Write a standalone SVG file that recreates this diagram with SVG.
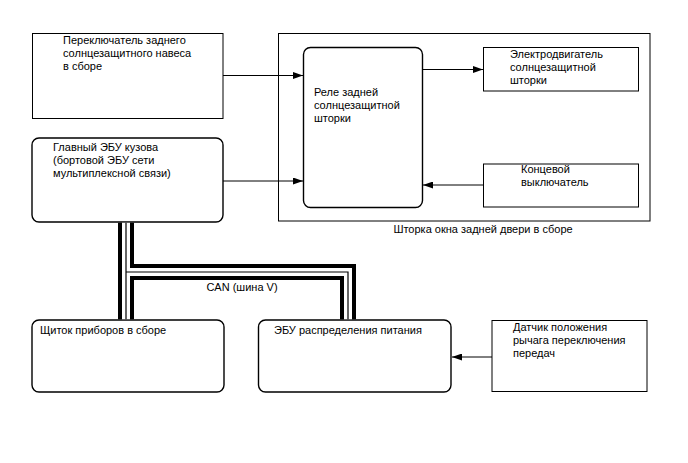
<svg xmlns="http://www.w3.org/2000/svg" width="688" height="463" viewBox="0 0 688 463">
<defs>
<style>
text{font-family:"Liberation Sans",Arial,sans-serif;font-size:11px;fill:#000}
.box{fill:#fff;stroke:#000;stroke-width:1}
.frame{fill:none;stroke:#000;stroke-width:1}
.rbox{fill:#fff;stroke:#000;stroke-width:1.4}
.wire{fill:none;stroke:#000;stroke-width:1}
.busA{fill:none;stroke:#000;stroke-width:16}
.busB{fill:none;stroke:#fff;stroke-width:8}
.busC{fill:none;stroke:#000;stroke-width:1.2}
</style>
<marker id="ah" markerWidth="10" markerHeight="7" refX="10" refY="3.5" orient="auto" markerUnits="userSpaceOnUse">
<path d="M0,0 L10,3.5 L0,7 z" fill="#000"/>
</marker>
</defs>
<rect width="688" height="463" fill="#fff"/>

<g id="shade-assembly">
<rect class="frame" x="278.5" y="33.5" width="371.5" height="187.5"/>
<text x="483" y="233" text-anchor="middle">Шторка окна задней двери в сборе</text>
</g>

<g id="switch">
<rect class="box" x="32.5" y="33.5" width="190.5" height="85"/>
<text x="63" y="44">Переключатель заднего</text>
<text x="63" y="57">солнцезащитного навеса</text>
<text x="63" y="70">в сборе</text>
</g>

<g id="main-ecu">
<rect class="rbox" x="32" y="138" width="191" height="84" rx="7"/>
<text x="53" y="151">Главный ЭБУ кузова</text>
<text x="53" y="164">(бортовой ЭБУ сети</text>
<text x="53" y="177">мультиплексной связи)</text>
</g>

<g id="relay">
<rect class="rbox" x="303.5" y="47.5" width="119" height="160" rx="7"/>
<text x="314" y="96">Реле задней</text>
<text x="314" y="109">солнцезащитной</text>
<text x="314" y="122">шторки</text>
</g>

<g id="motor">
<rect class="box" x="483.5" y="47.5" width="155" height="43.5"/>
<text x="510" y="58">Электродвигатель</text>
<text x="510" y="71">солнцезащитной</text>
<text x="510" y="84">шторки</text>
</g>

<g id="limit-switch">
<rect class="box" x="483.5" y="164" width="155" height="43"/>
<text x="521" y="173">Концевой</text>
<text x="521" y="186">выключатель</text>
</g>

<g id="instrument-panel">
<rect class="rbox" x="32" y="320" width="192" height="72" rx="7"/>
<text x="40" y="334">Щиток приборов в сборе</text>
</g>

<g id="power-ecu">
<rect class="rbox" x="258.5" y="320" width="192.5" height="72" rx="7"/>
<text x="274" y="334">ЭБУ распределения питания</text>
</g>

<g id="shift-sensor">
<rect class="box" x="492" y="320.5" width="155" height="71"/>
<text x="513" y="331">Датчик положения</text>
<text x="513" y="344">рычага переключения</text>
<text x="513" y="357">передач</text>
</g>

<g id="connectors">
<g id="can-bus">
<path class="busA" d="M126,222.7 V319.3 M126,272 H348 V319.3"/>
<path class="busB" d="M126,222.7 V319.3 M126,272 H348 V319.3"/>
<path class="busC" d="M126,222.7 V319.3 M126,272 H348 V319.3"/>
</g>
<line class="wire" x1="223" y1="75.5" x2="303" y2="75.5" marker-end="url(#ah)"/>
<line class="wire" x1="223" y1="181" x2="303" y2="181" marker-end="url(#ah)"/>
<line class="wire" x1="423" y1="69.5" x2="483" y2="69.5" marker-end="url(#ah)"/>
<line class="wire" x1="483" y1="185" x2="423" y2="185" marker-end="url(#ah)"/>
<line class="wire" x1="492" y1="357" x2="452" y2="357" marker-end="url(#ah)"/>
<text x="242" y="291" text-anchor="middle">CAN (шина V)</text>
</g>
</svg>
